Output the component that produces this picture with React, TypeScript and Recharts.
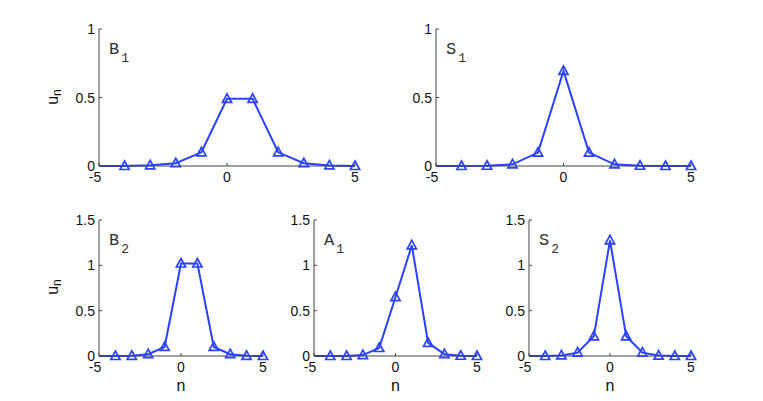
import React from "react"
import { LineChart, Line, XAxis, YAxis } from "recharts"

// lattice sites
const nValues = [-5, -4, -3, -2, -1, 0, 1, 2, 3, 4, 5]

// amplitudes u_n
const b1Values = [0, 0, 0.005, 0.02, 0.1, 0.49, 0.49, 0.1, 0.02, 0.004, 0]
const s1Values = [0, 0, 0.002, 0.012, 0.098, 0.694, 0.098, 0.012, 0.002, 0, 0]
const b2Values = [0, 0, 0.002, 0.02, 0.1, 1.02, 1.02, 0.1, 0.02, 0.002, 0]
const a1Values = [0, 0, 0, 0.01, 0.088, 0.65, 1.22, 0.144, 0.02, 0.003, 0]
const s2Values = [0, 0, 0.006, 0.037, 0.217, 1.275, 0.217, 0.037, 0.005, 0, 0]

const xTicks = [-5, 0, 5]
const topYTicks = [0, 0.5, 1]
const bottomYTicks = [0, 0.5, 1, 1.5]

const LINE_COLOR = "#2b42ff"
const AXIS_COLOR = "#444"
const TEXT_COLOR = "#111"
const FONT = "Liberation Sans, Arial, sans-serif"
const MONO = "Liberation Mono, Courier New, DejaVu Sans Mono, monospace"

const YAXIS_W = 50
const XAXIS_H = 50
const PAD_TOP = 20
const PAD_RIGHT = 20

function XTick(props: any) {
  const { x, y, payload } = props
  const v = payload.value
  return (
    <g>
      <line x1={x} y1={y} x2={x} y2={y - 3} stroke={AXIS_COLOR} strokeWidth={1} />
      <text x={x + (v < 0 ? -4 : 0)} y={y + 16} textAnchor="middle" fontSize={14} fontFamily={FONT} fill={TEXT_COLOR}>
        {String(v)}
      </text>
    </g>
  )
}

function YTick(props: any) {
  const { x, y, payload } = props
  return (
    <g>
      <line x1={x} y1={y} x2={x + 3} y2={y} stroke={AXIS_COLOR} strokeWidth={1} />
      <text x={x - 4} y={y + 5} textAnchor="end" fontSize={14} fontFamily={FONT} fill={TEXT_COLOR}>
        {String(payload.value)}
      </text>
    </g>
  )
}

function TriangleDot(props: any) {
  const { cx, cy, payload } = props
  if (cx == null || cy == null || payload.n === -5) return <g key={`d-${payload.n}`} />
  return (
    <path
      key={`d-${payload.n}`}
      d={`M${cx},${cy - 5} L${cx + 4.6},${cy + 3.5} L${cx - 4.6},${cy + 3.5} Z`}
      fill="none"
      stroke={LINE_COLOR}
      strokeWidth={1.7}
    />
  )
}

interface PanelProps {
  values: number[]
  left: number
  top: number
  width: number
  height: number
  yMax: number
  yTicks: number[]
}

function Panel({ values, left, top, width, height, yMax, yTicks }: PanelProps) {
  const data = nValues.map((n, i) => ({ n, u: values[i] }))
  return (
    <div style={{ position: "absolute", left: left - YAXIS_W, top: top - PAD_TOP }}>
      <LineChart
        width={width + YAXIS_W + PAD_RIGHT}
        height={height + PAD_TOP + XAXIS_H}
        data={data}
        margin={{ top: PAD_TOP, right: PAD_RIGHT, left: 0, bottom: 0 }}
      >
        <XAxis
          dataKey="n"
          type="number"
          domain={[-5, 5]}
          ticks={xTicks}
          interval={0}
          height={XAXIS_H}
          tickSize={0}
          tickMargin={0}
          tickLine={false}
          tick={<XTick />}
          axisLine={{ stroke: AXIS_COLOR, strokeWidth: 1 }}
        />
        <YAxis
          type="number"
          domain={[0, yMax]}
          ticks={yTicks}
          interval={0}
          width={YAXIS_W}
          tickSize={0}
          tickMargin={0}
          tickLine={false}
          tick={<YTick />}
          axisLine={{ stroke: AXIS_COLOR, strokeWidth: 1 }}
        />
        <Line
          type="linear"
          dataKey="u"
          stroke={LINE_COLOR}
          strokeWidth={2}
          dot={<TriangleDot />}
          activeDot={false}
          isAnimationActive={false}
        />
      </LineChart>
    </div>
  )
}

const panels = [
  { key: "B", sub: "1", values: b1Values, left: 99, top: 29, width: 256, height: 137, yMax: 1, yTicks: topYTicks },
  { key: "S", sub: "1", values: s1Values, left: 436, top: 29, width: 255, height: 137, yMax: 1, yTicks: topYTicks },
  { key: "B", sub: "2", values: b2Values, left: 99, top: 220, width: 164, height: 136, yMax: 1.5, yTicks: bottomYTicks },
  { key: "A", sub: "1", values: a1Values, left: 314, top: 220, width: 163, height: 136, yMax: 1.5, yTicks: bottomYTicks },
  { key: "S", sub: "2", values: s2Values, left: 529, top: 220, width: 162, height: 136, yMax: 1.5, yTicks: bottomYTicks },
]

export default function App() {
  return (
    <div style={{ position: "absolute", left: 0, top: 0, width: 763, height: 401, background: "#fff", overflow: "hidden" }}>
      {panels.map((p, i) => (
        <Panel key={i} values={p.values} left={p.left} top={p.top} width={p.width} height={p.height} yMax={p.yMax} yTicks={p.yTicks} />
      ))}
      <svg width={763} height={401} style={{ position: "absolute", left: 0, top: 0, pointerEvents: "none" }}>
        {panels.map((p, i) => (
          <text key={i} x={p.left + 10} y={p.top + 25} fontSize={17} fontFamily={MONO} fill="#333">
            {p.key}
            <tspan dx={2} dy={8} fontSize={13}>{p.sub}</tspan>
          </text>
        ))}
        <text transform="translate(58,97) rotate(-90)" textAnchor="middle" fontSize={16} fontFamily={FONT} fill={TEXT_COLOR}>
          u<tspan dy={3} fontSize={12}>n</tspan>
        </text>
        <text transform="translate(58,287) rotate(-90)" textAnchor="middle" fontSize={16} fontFamily={FONT} fill={TEXT_COLOR}>
          u<tspan dy={3} fontSize={12}>n</tspan>
        </text>
        {panels.slice(2).map((p, i) => (
          <text key={`n${i}`} x={p.left + p.width / 2} y={391} textAnchor="middle" fontSize={16} fontFamily={FONT} fill={TEXT_COLOR}>
            n
          </text>
        ))}
      </svg>
    </div>
  )
}
